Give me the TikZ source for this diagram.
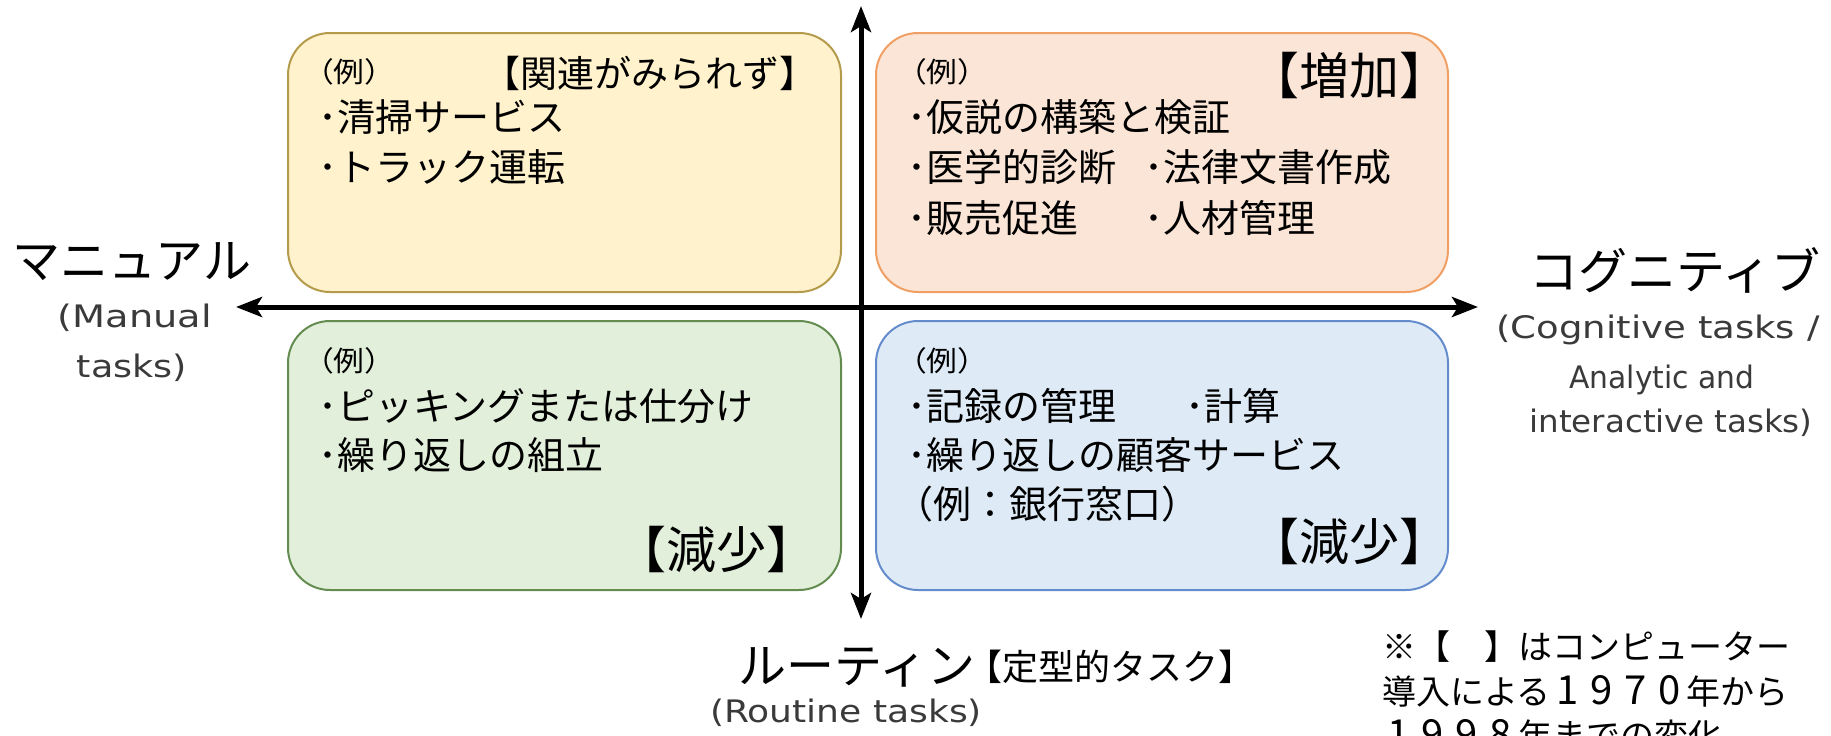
\documentclass[tikz,border=0pt]{standalone}
\usepackage{fontspec}
\setmainfont{Noto Sans CJK JP}
\newfontfamily\reif[FakeStretch=1.1]{Noto Sans CJK JP}
\newfontfamily\jpf{Noto Sans CJK JP}
\newfontfamily\enf{DejaVu Sans}
\usetikzlibrary{arrows.meta}
\definecolor{tlfill}{HTML}{FFF2CC}
\definecolor{tldraw}{RGB}{180,155,75}
\definecolor{trfill}{HTML}{FBE5D6}
\definecolor{trdraw}{RGB}{240,160,100}
\definecolor{blfill}{HTML}{E2EFDA}
\definecolor{bldraw}{RGB}{100,140,80}
\definecolor{brfill}{HTML}{DEEBF7}
\definecolor{brdraw}{RGB}{100,140,205}
\definecolor{engray}{HTML}{3A3A3A}
\newcommand{\dg}[1]{\makebox[1em]{\fontsize{40}{40}\selectfont #1}}
\newcommand{\fitw}[2]{\resizebox{#1}{\height}{#2}}
\tikzset{
  qbox/.style={rectangle, rounded corners=42pt, line width=2pt, inner sep=0pt},
  txt/.style={inner sep=0pt, outer sep=0pt, text=black},
  item/.style={txt, anchor=base west, font=\fontsize{38}{38}\selectfont},
  rei/.style={txt, anchor=base west, font=\reif\fontsize{28}{28}\selectfont},
  tag/.style={txt, anchor=base, font=\fontsize{50}{50}\selectfont},
  midtag/.style={txt, font=\fontsize{37}{37}\selectfont},
  big/.style={txt, anchor=base, font=\fontsize{48}{48}\selectfont},
  eng/.style={txt, anchor=base, text=engray, font=\enf\fontsize{31}{31}\selectfont},
  note/.style={txt, anchor=base west, font=\fontsize{34}{34}\selectfont},
  axis/.style={line width=5pt, {Stealth[length=26pt,width=20pt,inset=6pt]}-{Stealth[length=26pt,width=20pt,inset=6pt]}}
}
\begin{document}
\begin{tikzpicture}[x=1pt,y=-1pt]
\useasboundingbox (0,0) rectangle (1831,736);
% quadrant boxes
\node[qbox, fill=tlfill, draw=tldraw, minimum width=553pt, minimum height=259pt] (tl) at (564.5,162.5) {};
\node[qbox, fill=trfill, draw=trdraw, minimum width=572pt, minimum height=259pt] (tr) at (1162,162.5) {};
\node[qbox, fill=blfill, draw=bldraw, minimum width=553pt, minimum height=269pt] (bl) at (564.5,455.5) {};
\node[qbox, fill=brfill, draw=brdraw, minimum width=572pt, minimum height=269pt] (br) at (1162,455.5) {};
% axes
\coordinate (vt) at (861,6);
\coordinate (vb) at (861,619);
\coordinate (hl) at (236,307);
\coordinate (hr) at (1478,307);
\draw[axis] (vt) -- (vb);
\draw[axis] (hl) -- (hr);
% top-left
\node[rei] (tlrei) at (303,82) {（例）};
\node[midtag, anchor=base] (tltag) at (650,87) {【関連がみられず】};
\node[item] (tl1) at (318,131) {･清掃サービス};
\node[item] (tl2) at (318,181) {･トラック運転};
% top-right
\node[rei] (trrei) at (896,82) {（例）};
\node[tag] (trtag) at (1349,94) {【増加】};
\node[item] (tr1) at (907,131) {･仮説の構築と検証};
\node[item] (tr2) at (907,181) {･医学的診断};
\node[item] (tr3) at (1144,181) {･法律文書作成};
\node[item] (tr4) at (907,232) {･販売促進};
\node[item] (tr5) at (1144,232) {･人材管理};
% bottom-left
\node[rei] (blrei) at (303,371) {（例）};
\node[item] (bl1) at (318,420) {･ピッキングまたは仕分け};
\node[item] (bl2) at (318,469) {･繰り返しの組立};
\node[tag] (bltag) at (716,568) {【減少】};
% bottom-right
\node[rei] (brrei) at (896,371) {（例）};
\node[item] (br1) at (907,420) {･記録の管理};
\node[item] (br2) at (1185,420) {･計算};
\node[item] (br3) at (907,469) {･繰り返しの顧客サービス};
\node[item] (br4) at (895,518) {（例：銀行窓口）};
\node[tag] (brtag) at (1349,560) {【減少】};
% axis labels
\node[big] (manual) at (132,278) {マニュアル};
\node[eng] (manual1) at (135,327) {\fitw{154pt}{(Manual}};
\node[eng] (manual2) at (132,377) {\fitw{110pt}{tasks)}};
\node[big, font=\fontsize{49}{49}\selectfont] (cog) at (1675,289) {コグニティブ};
\node[eng] (cog1) at (1658,338) {\fitw{323pt}{(Cognitive tasks /}};
\node[eng] (cog2) at (1662,388) {\fitw{185pt}{Analytic and}};
\node[eng] (cog3) at (1671,432) {\fitw{283pt}{interactive tasks)}};
\node[big] (routine) at (857,683) {ルーティン};
\node[midtag, anchor=base west, font=\fontsize{36}{36}\selectfont] (teikei) at (966,680) {【定型的タスク】};
\node[eng] (routine1) at (846,722) {\fitw{272pt}{(Routine tasks)}};
% note
\node[note] (note1) at (1382,659) {※【　】はコンピューター};
\node[note] (note2) at (1382,704) {導入による\dg{1}\dg{9}\dg{7}\dg{0}年から};
\node[note] (note3) at (1382,748) {\dg{1}\dg{9}\dg{9}\dg{8}年までの変化};
\end{tikzpicture}
\end{document}
